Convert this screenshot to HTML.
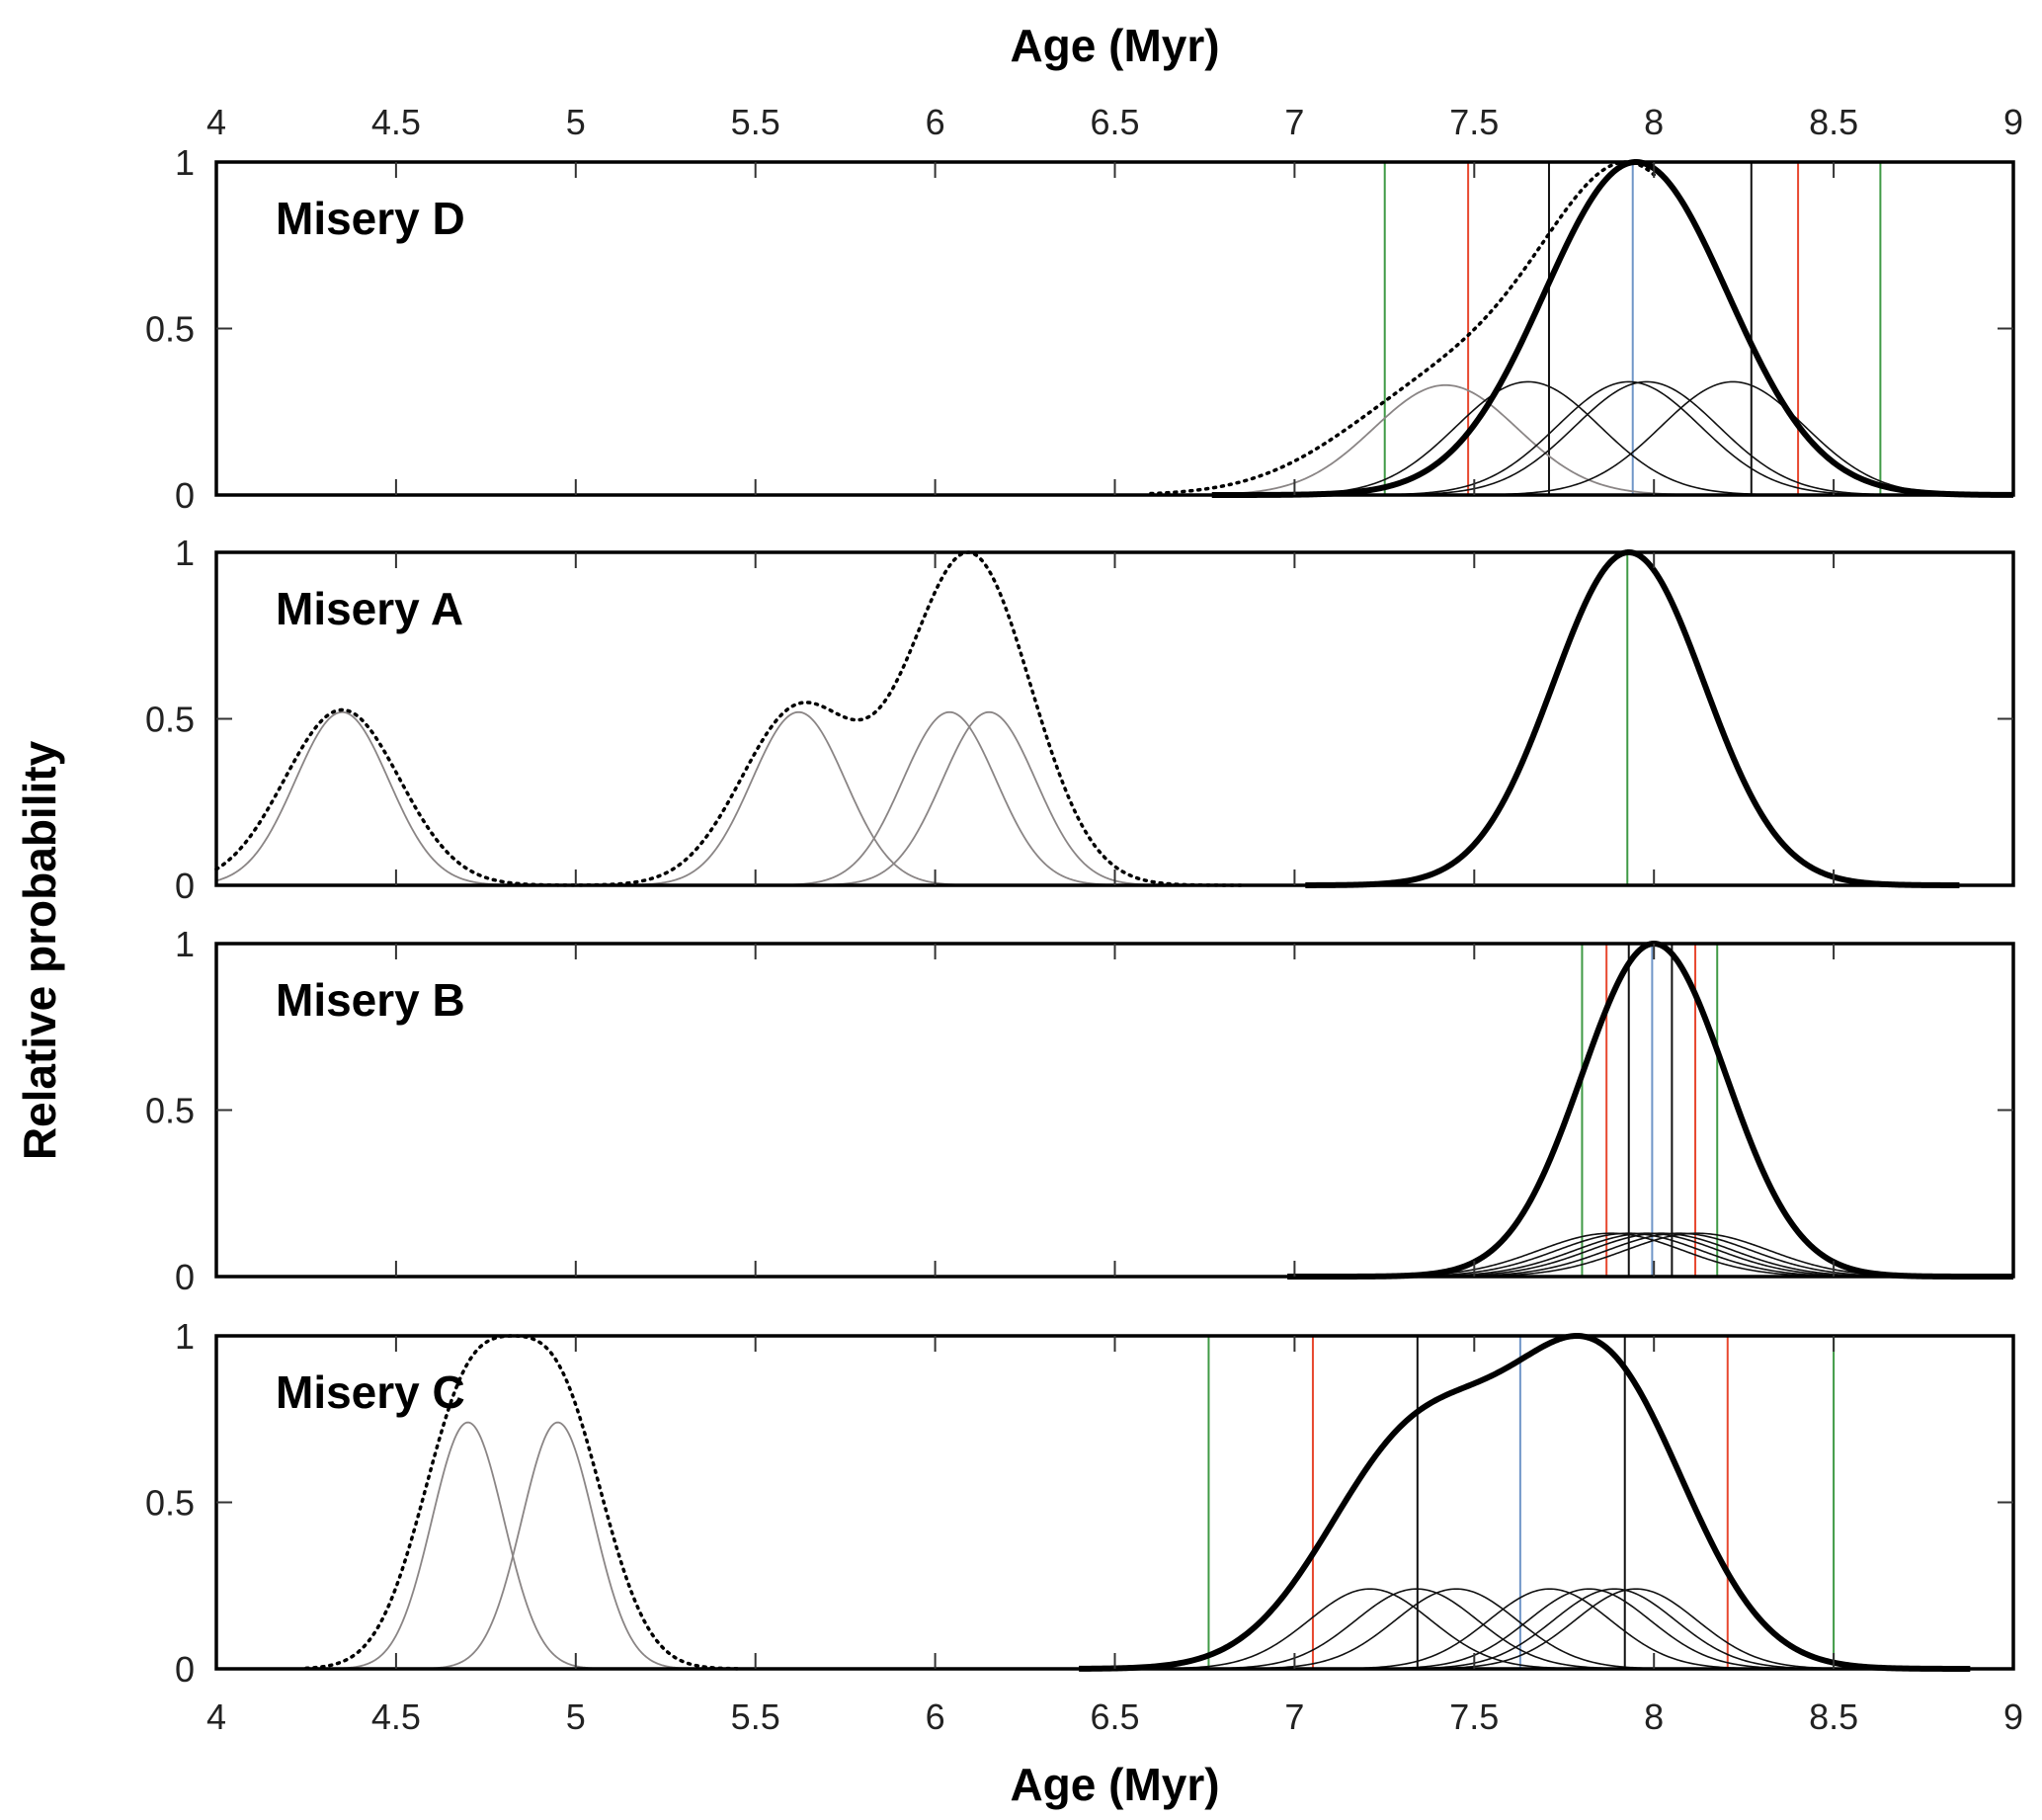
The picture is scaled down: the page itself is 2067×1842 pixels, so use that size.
<!DOCTYPE html>
<html><head><meta charset="utf-8">
<style>
html,body{margin:0;padding:0;background:#fff;}
svg{display:block;font-family:"Liberation Sans",Arial,sans-serif;}
</style></head>
<body>
<svg id="chart" width="2067" height="1842" viewBox="0 0 2067 1842" xmlns="http://www.w3.org/2000/svg"></svg>
<script>
// ---- Data ----
const panelNames = ["Misery D","Misery A","Misery B","Misery C"];
const xTicks = [4,4.5,5,5.5,6,6.5,7,7.5,8,8.5,9];
const xTickLabels = ["4","4.5","5","5.5","6","6.5","7","7.5","8","8.5","9"];
const yTicks = [0,0.5,1];
const yTickLabels = ["0","0.5","1"];

// Misery D
const dBlackCenters = [7.65,7.93,7.98,8.22];
const dBlackPeak = 0.34, dBlackSigma = 0.2;
const dGrayCenters = [7.42];
const dGrayPeak = 0.33, dGraySigma = 0.2;
const dThick = {center:7.95, sigma:0.255, from:6.77, to:9.0};
const dDottedGrayWeight = 1.0, dDottedGraySigma = 0.28;
const dLinesGreen = [7.251,8.630], dLinesRed=[7.483,8.401], dLinesBlack=[7.708,8.271], dLinesBlue=[7.941];

// Misery A
const aGrayCenters = [4.35,5.62,6.04,6.15];
const aGrayPeak = 0.52, aGraySigma = 0.13, aDottedSigma = 0.16;
const aThick = {center:7.93, sigma:0.21, from:7.03, to:8.85};
const aLinesGreen = [7.926];

// Misery B
const bBlackCenters = [7.88,7.93,7.98,8.02,8.07,8.12];
const bBlackPeak = 0.13, bBlackSigma = 0.2;
const bThick = {center:8.0, sigma:0.2, from:6.98, to:9.0};
const bLinesGreen=[7.80,8.176], bLinesRed=[7.868,8.115], bLinesBlack=[7.93,8.05], bLinesBlue=[7.995];

// Misery C
const cBlackCenters = [7.21,7.34,7.45,7.71,7.82,7.89,7.95];
const cBlackPeak = 0.24, cBlackSigma = 0.17, cThickSigma = 0.22;
const cThickRange = [6.4,8.88];
const cGrayCenters = [4.7,4.95];
const cGrayPeak = 0.74, cGraySigma = 0.1, cDottedSigma = 0.13;
const cLinesGreen=[6.761,8.50], cLinesRed=[7.051,8.205], cLinesBlack=[7.342,7.919], cLinesBlue=[7.628];

// ---- Layout ----
const L=219, R=2038, H=337;
const tops=[164,559,955,1352];
const svg=document.getElementById('chart');
const NS="http://www.w3.org/2000/svg";
function X(v){return L+(v-4)/5*(R-L);}
function Y(p,v){return tops[p]+H*(1-v);}
function mk(tag,attrs,parent){const e=document.createElementNS(NS,tag);for(const k in attrs)e.setAttribute(k,attrs[k]);(parent||svg).appendChild(e);return e;}
function gauss(x,c,s){return Math.exp(-(x-c)*(x-c)/(2*s*s));}
function sumG(x,cs,pk,s){let t=0;for(const c of cs)t+=pk*gauss(x,c,s);return t;}
function pathFor(p,f,a,b){let d="";const n=400;for(let i=0;i<=n;i++){const x=a+(b-a)*i/n;const v=f(x);d+=(i?"L":"M")+X(x).toFixed(2)+","+Y(p,v).toFixed(2);}return d;}
function curve(g,p,f,a,b,style,name){
  const e=mk('path',Object.assign({d:pathFor(p,f,a,b),fill:'none'},style),g);
  
  
}
function vlines(g,p,xs,color,name){
  for(const x of xs){
    const e=mk('line',{x1:X(x),x2:X(x),y1:tops[p],y2:tops[p]+H,stroke:color,'stroke-width':2},g);
    
    
  }
}
function maxOf(f,a,b){let m=0;for(let i=0;i<=1000;i++){const v=f(a+(b-a)*i/1000);if(v>m)m=v;}return m;}
const thin={stroke:'#111','stroke-width':1.6};
const grayS={stroke:'#8a8585','stroke-width':1.8};
const thickS={stroke:'#000','stroke-width':6,'stroke-linejoin':'round'};
const dotS={stroke:'#000','stroke-width':3.5,'stroke-dasharray':'2 6','stroke-linecap':'round'};
const GREEN='#3f9a45', RED='#e8482f', BLACK='#111', BLUE='#7096c8';

const panels=[];
for(let p=0;p<4;p++){
  const g=mk('g',{});
  
  
  panels.push(g);
}

// Panel D
(function(){const p=0,g=panels[0];
  vlines(g,p,dLinesGreen,GREEN,'green-line');vlines(g,p,dLinesRed,RED,'red-line');
  vlines(g,p,dLinesBlack,BLACK,'black-line');vlines(g,p,dLinesBlue,BLUE,'blue-line');
  for(const c of dGrayCenters) curve(g,p,x=>dGrayPeak*gauss(x,c,dGraySigma),6.6,8.6,grayS,'component-curve-gray');
  for(const c of dBlackCenters) curve(g,p,x=>dBlackPeak*gauss(x,c,dBlackSigma),6.8,9.0,thin,'component-curve');
  const th=x=>gauss(x,dThick.center,dThick.sigma);
  const dr=x=>th(x)+dDottedGrayWeight*sumG(x,dGrayCenters,dGrayPeak,dDottedGraySigma);
  const m=maxOf(dr,6.5,9);
  curve(g,p,x=>dr(x)/m,6.6,8.0,dotS,'dotted-sum-curve');
  curve(g,p,th,dThick.from,dThick.to,thickS,'thick-probability-curve');
})();
// Panel A
(function(){const p=1,g=panels[1];
  vlines(g,p,aLinesGreen,GREEN,'green-line');
  for(const c of aGrayCenters) curve(g,p,x=>aGrayPeak*gauss(x,c,aGraySigma),Math.max(4,c-0.6),c+0.6,grayS,'component-curve-gray');
  const s=x=>sumG(x,aGrayCenters,aGrayPeak,aDottedSigma);
  const m=maxOf(s,5.5,6.5);
  curve(g,p,x=>s(x)/m,4.0,6.85,dotS,'dotted-sum-curve');
  curve(g,p,x=>gauss(x,aThick.center,aThick.sigma),aThick.from,aThick.to,thickS,'thick-probability-curve');
})();
// Panel B
(function(){const p=2,g=panels[2];
  vlines(g,p,bLinesGreen,GREEN,'green-line');vlines(g,p,bLinesRed,RED,'red-line');
  vlines(g,p,bLinesBlack,BLACK,'black-line');vlines(g,p,bLinesBlue,BLUE,'blue-line');
  for(const c of bBlackCenters) curve(g,p,x=>bBlackPeak*gauss(x,c,bBlackSigma),7.1,8.9,thin,'component-curve');
  curve(g,p,x=>gauss(x,bThick.center,bThick.sigma),bThick.from,bThick.to,thickS,'thick-probability-curve');
})();
// Panel C
(function(){const p=3,g=panels[3];
  vlines(g,p,cLinesGreen,GREEN,'green-line');vlines(g,p,cLinesRed,RED,'red-line');
  vlines(g,p,cLinesBlack,BLACK,'black-line');vlines(g,p,cLinesBlue,BLUE,'blue-line');
  for(const c of cBlackCenters) curve(g,p,x=>cBlackPeak*gauss(x,c,cBlackSigma),6.6,8.6,thin,'component-curve');
  for(const c of cGrayCenters) curve(g,p,x=>cGrayPeak*gauss(x,c,cGraySigma),c-0.45,c+0.45,grayS,'component-curve-gray');
  const gs=x=>sumG(x,cGrayCenters,cGrayPeak,cDottedSigma);
  const gm=maxOf(gs,4.3,5.4);
  curve(g,p,x=>gs(x)/gm,4.25,5.45,dotS,'dotted-sum-curve');
  const bs=x=>sumG(x,cBlackCenters,cBlackPeak,cThickSigma);
  const bm=maxOf(bs,6.5,8.8);
  curve(g,p,x=>bs(x)/bm,cThickRange[0],cThickRange[1],thickS,'thick-probability-curve');
})();

// Frames, ticks, labels
for(let p=0;p<4;p++){
  const g=panels[p];
  const f=mk('rect',{x:L,y:tops[p],width:R-L,height:H,fill:'none',stroke:'#000','stroke-width':3.5},g);
  
  
  for(const t of xTicks){ if(t===4||t===9)continue;
    mk('line',{x1:X(t),x2:X(t),y1:tops[p],y2:tops[p]+16,stroke:'#333','stroke-width':2},g);
    mk('line',{x1:X(t),x2:X(t),y1:tops[p]+H,y2:tops[p]+H-16,stroke:'#333','stroke-width':2},g);
  }
  mk('line',{x1:L,x2:L+16,y1:Y(p,0.5),y2:Y(p,0.5),stroke:'#333','stroke-width':2},g);
  mk('line',{x1:R,x2:R-16,y1:Y(p,0.5),y2:Y(p,0.5),stroke:'#333','stroke-width':2},g);
  yTicks.forEach((t,i)=>{
    const tx=mk('text',{x:197,y:Y(p,t)+13,'text-anchor':'end','font-size':36,fill:'#222'},g);
    tx.textContent=yTickLabels[i];
    
    
  });
  const lb=mk('text',{x:279,y:tops[p]+73,'font-size':46,'font-weight':'bold',fill:'#000'},g);
  lb.textContent=panelNames[p];
  
  
}
xTicks.forEach((t,i)=>{
  const a=mk('text',{x:X(t),y:136,'text-anchor':'middle','font-size':36,fill:'#222'});
  a.textContent=xTickLabels[i];
  
  
  const b=mk('text',{x:X(t),y:1750,'text-anchor':'middle','font-size':36,fill:'#222'});
  b.textContent=xTickLabels[i];
  
  
});
const t1=mk('text',{x:(L+R)/2,y:62,'text-anchor':'middle','font-size':46,'font-weight':'bold'});
t1.textContent='Age (Myr)';


const t2=mk('text',{x:(L+R)/2,y:1822,'text-anchor':'middle','font-size':46,'font-weight':'bold'});
t2.textContent='Age (Myr)';


const t3=mk('text',{x:0,y:0,'text-anchor':'middle','font-size':46,'font-weight':'bold',transform:'translate(56,962) rotate(-90)'});
t3.textContent='Relative probability';


</script>
</body></html>
